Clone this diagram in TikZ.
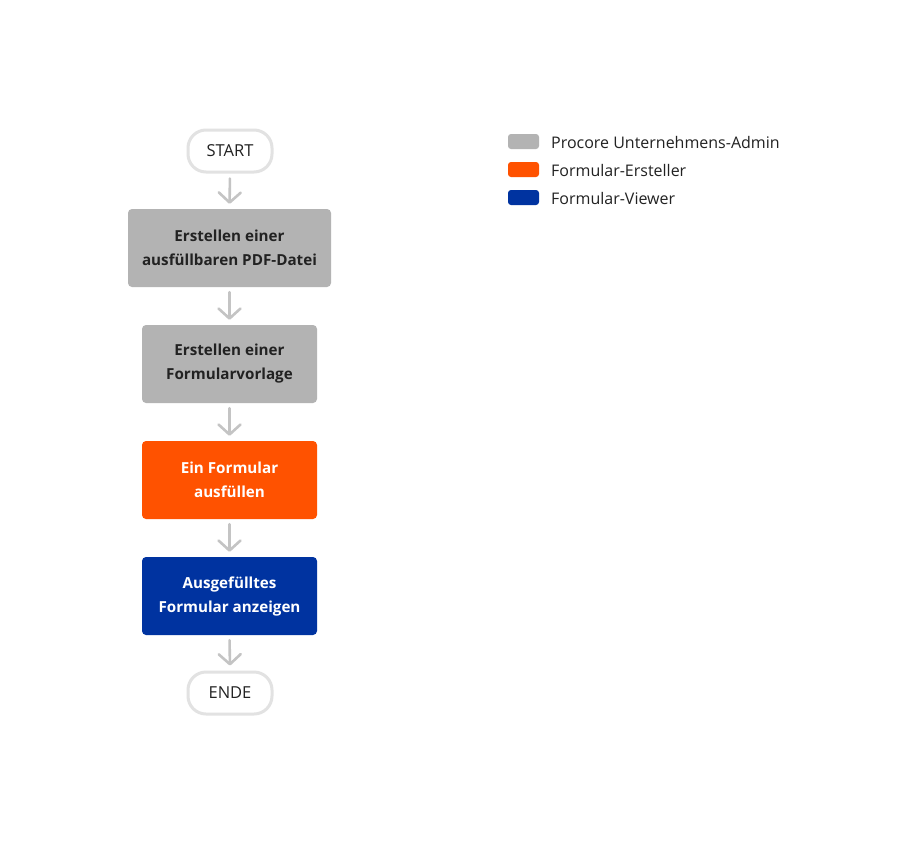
\documentclass[tikz,border=0pt]{standalone}
\usepackage{fontspec}
\setmainfont{Open Sans}
\usetikzlibrary{arrows.meta}
\definecolor{boxgray}{HTML}{B3B3B3}
\definecolor{boxorange}{HTML}{FF5200}
\definecolor{boxblue}{HTML}{0033A0}
\definecolor{arrowgray}{HTML}{C4C4C4}
\definecolor{pillborder}{HTML}{E2E2E2}
\definecolor{txtdark}{HTML}{222222}
\tikzset{
  pill/.style={draw=pillborder, line width=3pt, fill=white, rounded corners=18pt,
    minimum width=84pt, minimum height=42pt, inner sep=0pt, font=\fontsize{16.5pt}{19pt}\selectfont, text=txtdark},
  stepbox/.style={rounded corners=4pt, minimum height=78pt, inner sep=0pt, align=center,
    font=\fontsize{15.2pt}{24pt}\selectfont\bfseries},
  flow/.style={draw=arrowgray, line width=2.6pt, line cap=round,
    -{Straight Barb[length=10pt,width=22pt,line width=2.6pt, round]}, shorten <=5pt, shorten >=5pt},
  swatch/.style={fill=#1, rounded corners=3pt, minimum width=31pt, minimum height=15pt, inner sep=0pt},
  legtext/.style={anchor=west, font=\fontsize{16pt}{19pt}\selectfont, text=txtdark, inner sep=0pt}
}
\begin{document}
\begin{tikzpicture}[x=1pt,y=-1pt]
\useasboundingbox (0,0) rectangle (907,844);
\fill[white] (0,0) rectangle (907,844);
\node[pill] (start) at (230,151) {START};
\node[stepbox, fill=boxgray, text=txtdark, minimum width=203pt] (b1) at (229.5,248) {Erstellen einer\\ausfüllbaren PDF-Datei};
\node[stepbox, fill=boxgray, text=txtdark, minimum width=175pt] (b2) at (229.5,364) {Erstellen einer\\Formularvorlage};
\node[stepbox, fill=boxorange, text=white, minimum width=175pt] (b3) at (229.5,480) {Ein Formular\\ausfüllen};
\node[stepbox, fill=boxblue, text=white, minimum width=175pt] (b4) at (229.5,596) {Ausgefülltes\\Formular anzeigen};
\node[pill] (ende) at (230,693) {ENDE};
\draw[flow] (start.south) -- (b1.north);
\draw[flow] (b1.south) -- (b2.north);
\draw[flow] (b2.south) -- (b3.north);
\draw[flow] (b3.south) -- (b4.north);
\draw[flow] (b4.south) -- (ende.north);
\node[swatch=boxgray] (s1) at (523.5,141.5) {};
\node[swatch=boxorange] (s2) at (523.5,169.5) {};
\node[swatch=boxblue] (s3) at (523.5,197.5) {};
\node[legtext] (l1) at (551,142) {Procore Unternehmens-Admin};
\node[legtext] (l2) at (551,170) {Formular-Ersteller};
\node[legtext] (l3) at (551,198) {Formular-Viewer};
\end{tikzpicture}
\end{document}
